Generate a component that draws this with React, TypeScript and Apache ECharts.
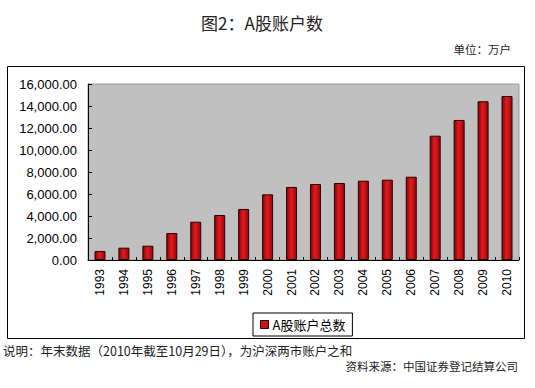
import React, { useEffect, useRef } from "react";
import * as echarts from "echarts";

const years = ["1993", "1994", "1995", "1996", "1997", "1998", "1999", "2000", "2001", "2002", "2003", "2004", "2005", "2006", "2007", "2008", "2009", "2010"];
const accounts = [820, 1120, 1300, 2450, 3480, 4090, 4640, 5970, 6640, 6910, 7000, 7210, 7300, 7570, 11300, 12730, 14430, 14910];
const seriesName = "A股账户总数";
const titleText = "图2：A股账户数";
const unitText = "单位：万户";
const noteText = "说明：年末数据（2010年截至10月29日），为沪深两市账户之和";
const sourceText = "资料来源：中国证券登记结算公司";

const cjk = '"Noto Sans CJK SC", "Liberation Sans", sans-serif';
const num = '"Liberation Sans", Arial, sans-serif';

function fmt(v: number): string {
  const s = v.toFixed(2);
  const [i, d] = s.split(".");
  return i.replace(/\B(?=(\d{3})+(?!\d))/g, ",") + "." + d;
}

export default function App() {
  const ref = useRef<HTMLDivElement>(null);
  useEffect(() => {
    if (!ref.current) return;
    const chart = echarts.init(ref.current, null, { renderer: "svg" });
    const barColor = new echarts.graphic.LinearGradient(0, 0, 1, 0, [
      { offset: 0, color: "#7e0808" },
      { offset: 0.45, color: "#e8181e" },
      { offset: 1, color: "#8e0a0a" },
    ]);
    chart.setOption({
      animation: false,
      backgroundColor: "#ffffff",
      graphic: [
        {
          type: "rect",
          shape: { x: 7.5, y: 66.5, width: 517, height: 272 },
          style: { fill: "none", stroke: "#000", lineWidth: 1 },
          z: 0,
        },
        {
          type: "text",
          x: 262,
          y: 22,
          style: { text: titleText, font: `17px ${cjk}`, fill: "#222", align: "center", verticalAlign: "middle" },
        },
        {
          type: "text",
          x: 511,
          y: 49,
          style: { text: unitText, font: `11.5px ${cjk}`, fill: "#222", align: "right", verticalAlign: "middle" },
        },
        {
          type: "text",
          x: 3,
          y: 350,
          style: { text: noteText, font: `12.5px ${cjk}`, fill: "#222", align: "left", verticalAlign: "middle" },
        },
        {
          type: "text",
          x: 518,
          y: 366,
          style: { text: sourceText, font: `11.5px ${cjk}`, fill: "#222", align: "right", verticalAlign: "middle" },
        },
      ],
      grid: {
        left: 88,
        top: 84,
        right: 16,
        bottom: 128,
        show: true,
        backgroundColor: "#c0c0c0",
        borderColor: "#9a9a9a",
        borderWidth: 1,
        containLabel: false,
      },
      legend: {
        left: 253,
        top: 313,
        orient: "horizontal",
        borderColor: "#000",
        borderWidth: 1,
        padding: [5, 7, 5, 7],
        itemWidth: 8,
        itemHeight: 8,
        itemGap: 4,
        icon: "rect",
        data: [{ name: seriesName, itemStyle: { color: "#c8141a", borderColor: "#300", borderWidth: 1 } }],
        textStyle: { fontFamily: cjk, fontSize: 13, color: "#000", padding: [0, 0, 0, -1] },
      },
      xAxis: {
        type: "category",
        data: years,
        axisLine: { show: true, lineStyle: { color: "#000", width: 1 } },
        axisTick: { show: true, inside: true, length: 3, lineStyle: { color: "#000" } },
        axisLabel: { rotate: 90, fontFamily: num, fontSize: 12, color: "#000", margin: 9 },
      },
      yAxis: {
        type: "value",
        min: 0,
        max: 16000,
        interval: 2000,
        splitLine: { show: false },
        axisLine: { show: true, lineStyle: { color: "#000", width: 1 } },
        axisTick: { show: true, inside: true, length: 4, lineStyle: { color: "#000" } },
        axisLabel: { formatter: (v: number) => fmt(v), fontFamily: num, fontSize: 13, color: "#000", margin: 11 },
      },
      series: [
        {
          name: seriesName,
          type: "bar",
          data: accounts,
          barWidth: 11,
          itemStyle: { color: barColor, borderColor: "#2a0000", borderWidth: 1 },
        },
      ],
    });
    return () => chart.dispose();
  }, []);
  return <div ref={ref} style={{ position: "fixed", left: 0, top: 0, width: 535, height: 388 }} />;
}
